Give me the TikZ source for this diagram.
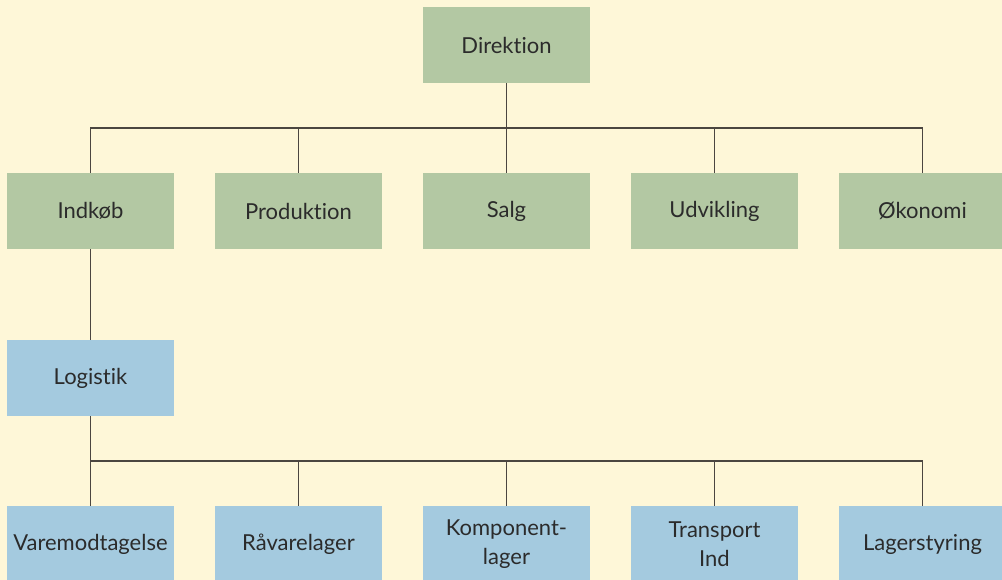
\documentclass[tikz,border=0pt]{standalone}
\usepackage{fontspec}
\setmainfont{Lato}[Ligatures=NoCommon, RawFeature=-liga]
\usepackage{tikz}

\definecolor{baggrund}{HTML}{FEF7D8}
\definecolor{groen}{HTML}{B3C8A3}
\definecolor{blaa}{HTML}{A4CADF}
\definecolor{streg}{HTML}{4B4640}
\definecolor{tekst}{HTML}{2B2B2B}

\tikzset{
  boks/.style={minimum width=167, minimum height=76, inner sep=0, align=center,
    text=tekst, font=\fontsize{22}{29}\selectfont},
  leder/.style={boks, fill=groen},
  stab/.style={boks, fill=blaa},
  linje/.style={streg, line width=1.4}
}

\begin{document}
\begin{tikzpicture}[x=1pt, y=-1pt]
\useasboundingbox (0,0) rectangle (1002,580);
\clip (0,0) rectangle (1002,580);
\fill[baggrund] (0,0) rectangle (1002,580);

% Direktion
\node[leder] (dir) at (506.5,45) {Direktion};

% Afdelinger
\node[leder] (ind) at (90.5,211) {Indkøb};
\node[leder] (prod) at (298.5,211) {Produktion};
\node[leder] (salg) at (506.5,211) {Salg};
\node[leder] (udv) at (714.5,211) {Udvikling};
\node[leder] (oko) at (922.5,211) {Økonomi};

% Logistik
\node[stab] (log) at (90.5,378) {Logistik};

% Underafdelinger
\node[stab] (vare) at (90.5,544) {Varemodtagelse};
\node[stab] (raa) at (298.5,544) {Råvarelager};
\node[stab] (komp) at (506.5,544) {Komponent-\\lager};
\node[stab] (trans) at (714.5,544) {Transport\\Ind};
\node[stab] (lager) at (922.5,544) {Lagerstyring};

% forbindelser
\coordinate (bus1) at (506.5,128);
\coordinate (bus2) at (90.5,461);
\draw[linje] (dir.south) -- (bus1);
\foreach \n in {ind,prod,salg,udv,oko}
  \draw[linje] (bus1) -| (\n.north);
\draw[linje] (ind.south) -- (log.north);
\draw[linje] (log.south) -- (bus2);
\foreach \n in {vare,raa,komp,trans,lager}
  \draw[linje] (bus2) -| (\n.north);
\end{tikzpicture}
\end{document}
